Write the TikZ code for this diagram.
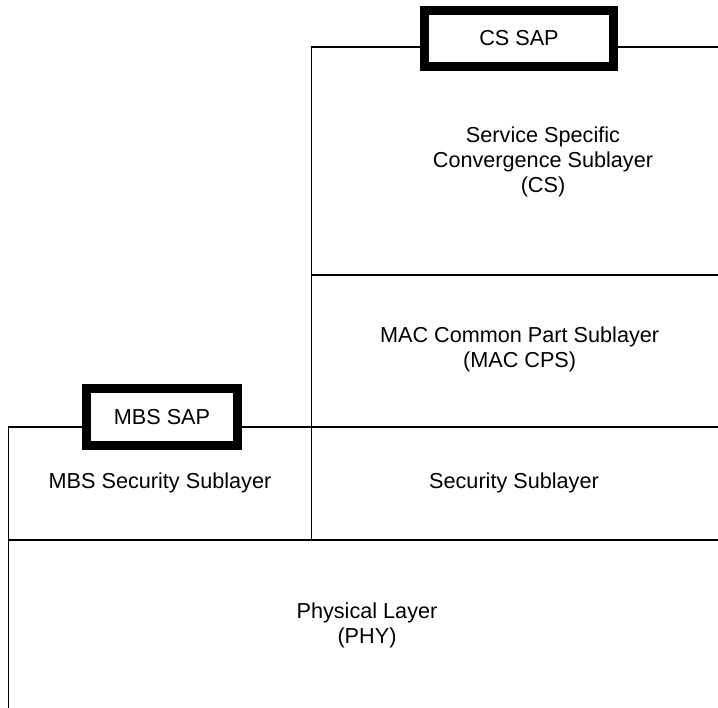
\documentclass[tikz,border=0pt]{standalone}
\usepackage{fontspec}
\setmainfont{Liberation Sans}
\usepackage{tikz}
\newcommand{\lfont}{\fontsize{15.4}{17.8}\selectfont}

\begin{document}
\begin{tikzpicture}[layer/.style={draw, line width=1.2pt}, sapnode/.style={draw, fill=white, line width=6.4pt, minimum width=4.725cm, minimum height=1.4cm, font=\lfont}, lnode/.style={align=center, font=\lfont}]
    \useasboundingbox (0,0) rectangle (17.95,17.7);
    \clip (0,0) rectangle (17.95,17.7);

    \draw[layer] (7.79,10.825) rectangle (19,16.53);
    \draw[layer] (7.79,7.0325) rectangle (19,10.825);
    \draw[layer] (7.79,4.2) rectangle (19,7.0325);
    \draw[layer] (0.2125,4.2) rectangle (7.79,7.0325);
    \draw[layer] (0.2125,-1) rectangle (19,4.2);

    \node[lnode] (cs) at (13.575, 13.65) {Service Specific\\Convergence Sublayer\\(CS)};
    \node[lnode] (cps) at (12.99, 8.975) {MAC Common Part Sublayer\\(MAC CPS)};
    \node[lnode] (sec) at (12.85, 5.625) {Security Sublayer};
    \node[lnode] (mbssec) at (4.0, 5.625) {MBS Security Sublayer};
    \node[lnode] (phy) at (9.175, 2.075) {Physical Layer\\(PHY)};

    \node[sapnode] (cssap) at (12.975, 16.74) {CS SAP};
    \node[sapnode, minimum width=3.775cm, minimum height=1.425cm] (mbssap) at (4.05, 7.275) {MBS SAP};

\end{tikzpicture}
\end{document}
